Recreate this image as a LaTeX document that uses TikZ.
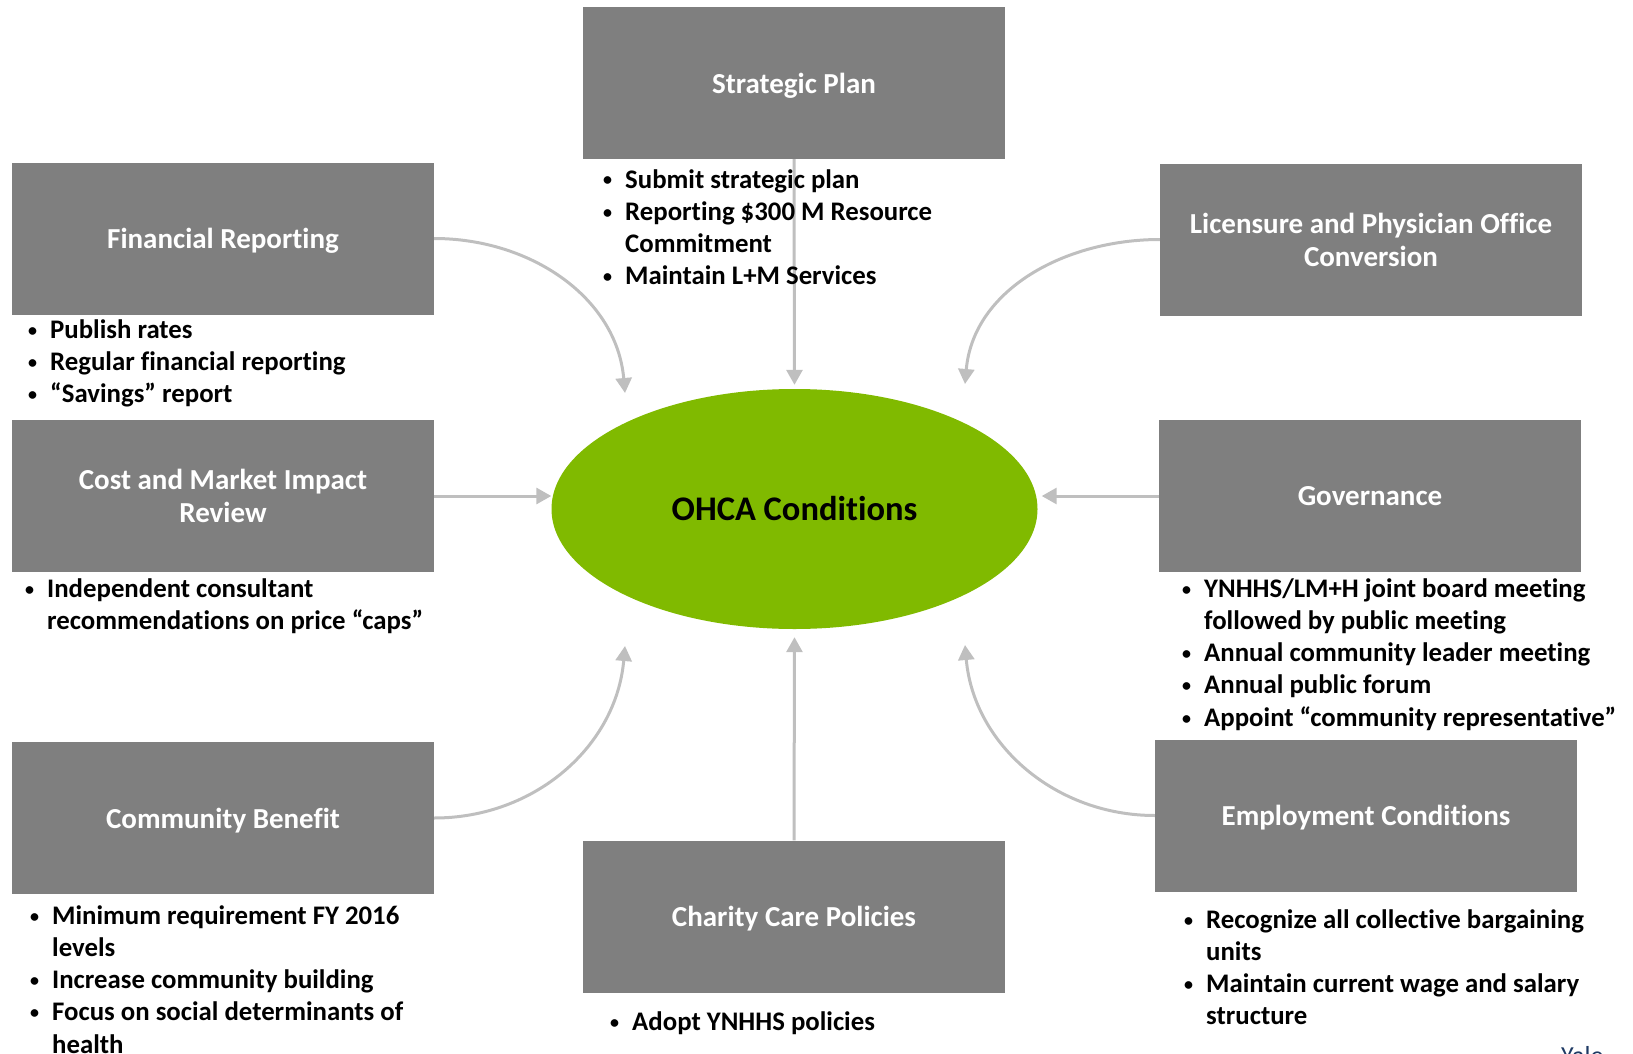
\documentclass[tikz,border=0pt]{standalone}
\usepackage{fontspec}
\setmainfont{Carlito}[Ligatures=CommonOff]
\usetikzlibrary{arrows.meta,shapes.geometric}
\definecolor{boxgray}{HTML}{7F7F7F}
\definecolor{arrgray}{HTML}{BFBFBF}
\definecolor{ohcagreen}{HTML}{80BA00}
\definecolor{yaleblue}{HTML}{1F3A64}
\newcommand{\bl}{\makebox[22pt][l]{\raisebox{2pt}{\fontsize{18}{18}\selectfont\textbullet}}}
\tikzset{
  titlebox/.style={fill=boxgray, minimum width=422pt, minimum height=152pt, inner sep=0pt,
    text=white, font=\bfseries\fontsize{29}{33}\selectfont, align=center, text depth=0pt},
  bullets/.style={inner sep=0pt, anchor=base west, font=\bfseries\fontsize{26.8}{32.3}\selectfont, text=black},
  conn/.style={draw=arrgray, line width=3pt, -{Triangle[width=16pt,length=15pt]}},
}
\newenvironment{blist}{\begin{tabular}[t]{@{}l@{}l@{}}}{\end{tabular}}
\begin{document}
\begin{tikzpicture}[x=1pt,y=-1pt]
\useasboundingbox (0,0) rectangle (1633,1054);
\clip (0,0) rectangle (1633,1054);
% boxes
\node[titlebox] (strat) at (794,83) {Strategic Plan};
\node[titlebox] (fin) at (223,238.5) {Financial Reporting};
\node[titlebox] (lic) at (1371,239.5) {Licensure and Physician Office\\Conversion};
\node[titlebox] (cost) at (223,496) {Cost and Market Impact\\Review};
\node[titlebox] (gov) at (1370,496) {Governance};
\node[titlebox] (comm) at (223,818) {Community Benefit};
\node[titlebox] (char) at (794,916.5) {Charity Care Policies};
\node[titlebox] (emp) at (1366,815.5) {Employment Conditions};
% ellipse
\node[ellipse, fill=ohcagreen, minimum width=486pt, minimum height=240pt, inner sep=0pt,
  font=\bfseries\fontsize{34.5}{40}\selectfont] (ohca) at (794.5,509) {OHCA Conditions};
% free ends
\coordinate (finend) at (625,393);
\coordinate (licend) at (965,384);
\coordinate (commend) at (625,646);
\coordinate (empend) at (965,645);
% connectors
\draw[conn] (strat.south) -- ([yshift=4pt]ohca.north);
\draw[conn] (char.north) -- ([yshift=-8pt]ohca.south);
\draw[conn] (cost.east) -- (cost.east -| ohca.west);
\draw[conn] (gov.west) -- ([xshift=4pt]gov.west -| ohca.east);
\draw[conn] (fin.east) to[out=0,in=95] (finend);
\draw[conn] (lic.west) to[out=180,in=85] (licend);
\draw[conn] (comm.east) to[out=0,in=-95] (commend);
\draw[conn] (emp.west) to[out=180,in=-85] (empend);
% bullet texts
\node[bullets] (tstrat) at (603,188) {\begin{blist}
\bl & Submit strategic plan\\
\bl & Reporting \$300 M Resource\\
 & Commitment\\
\bl & Maintain L+M Services
\end{blist}};
\node[bullets] (tfin) at (28,338) {\begin{blist}
\bl & Publish rates\\
\bl & Regular financial reporting\\
\bl & “Savings” report
\end{blist}};
\node[bullets] (tcost) at (25,597) {\begin{blist}
\bl & Independent consultant\\
 & recommendations on price “caps”
\end{blist}};
\node[bullets] (tgov) at (1182,597) {\begin{blist}
\bl & YNHHS/LM+H joint board meeting\\
 & followed by public meeting\\
\bl & Annual community leader meeting\\
\bl & Annual public forum\\
\bl & Appoint “community representative”
\end{blist}};
\node[bullets] (tcomm) at (30,924) {\begin{blist}
\bl & Minimum requirement FY 2016\\
 & levels\\
\bl & Increase community building\\
\bl & Focus on social determinants of\\
 & health
\end{blist}};
\node[bullets] (tchar) at (610,1030) {\begin{blist}
\bl & Adopt YNHHS policies
\end{blist}};
\node[bullets] (temp) at (1184,928) {\begin{blist}
\bl & Recognize all collective bargaining\\
 & units\\
\bl & Maintain current wage and salary\\
 & structure
\end{blist}};
\node[anchor=north west, inner sep=0pt, text=yaleblue, font=\fontsize{26}{30}\selectfont] (yale) at (1561,1046) {Yale};
\end{tikzpicture}
\end{document}
